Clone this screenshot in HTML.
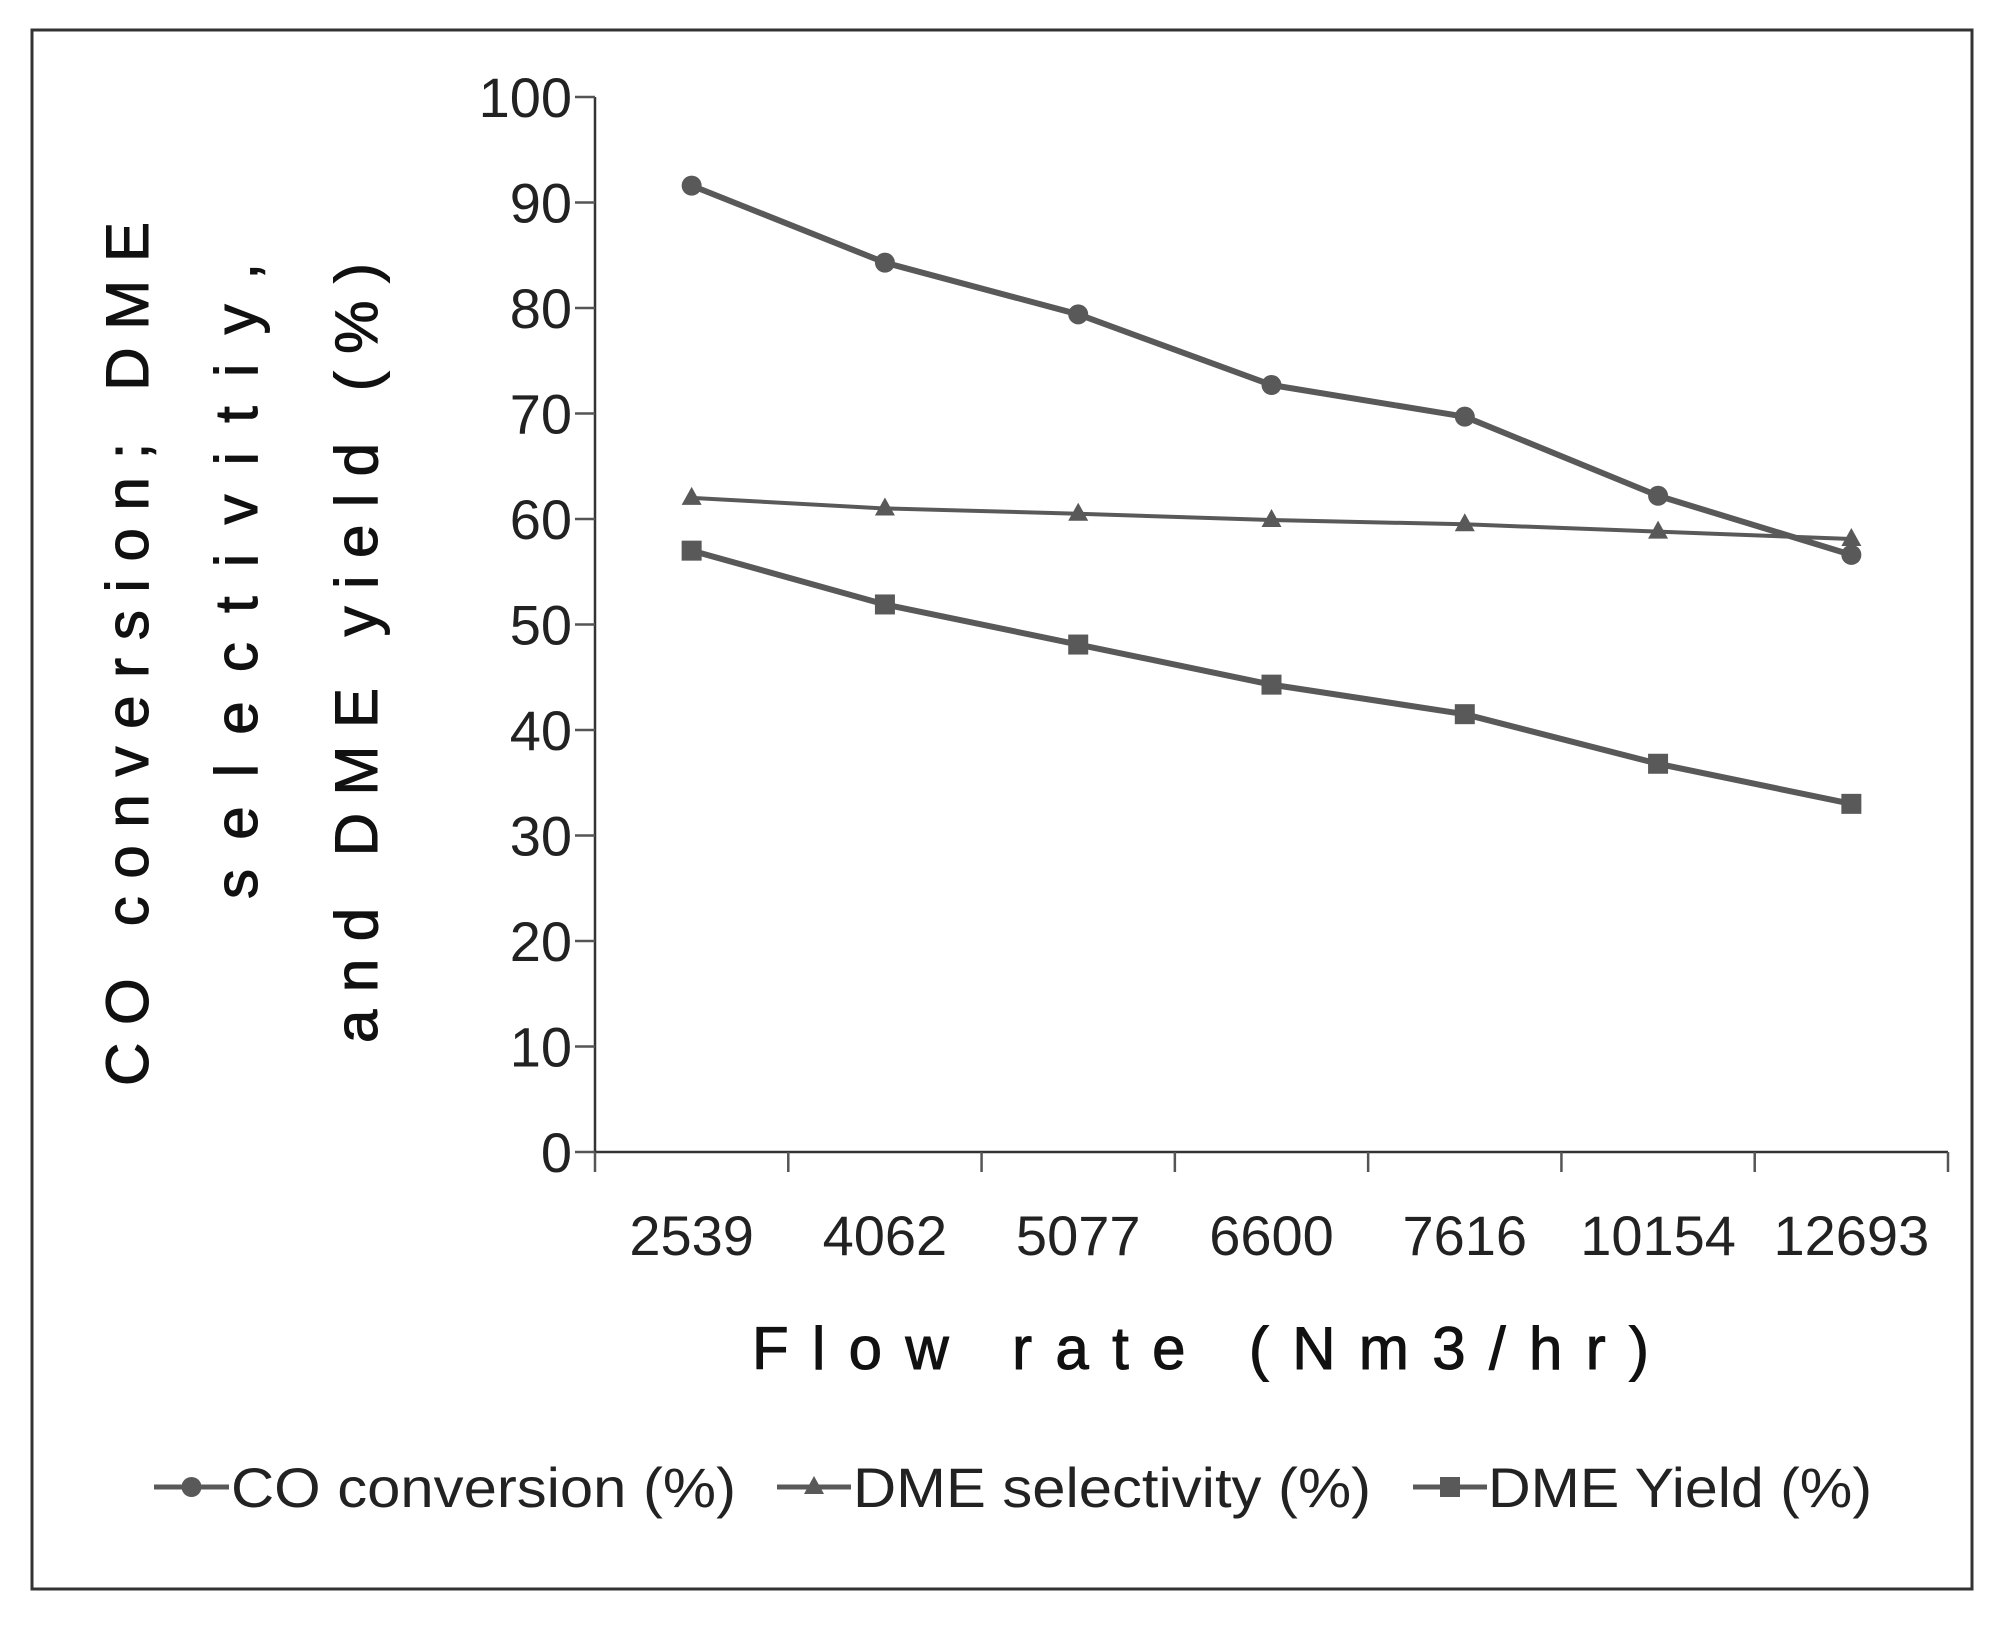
<!DOCTYPE html>
<html><head><meta charset="utf-8"><style>
html,body{margin:0;padding:0;background:#fff;}
svg{display:block;font-family:"Liberation Sans",sans-serif;}
</style></head><body>
<svg id="chart" width="2016" height="1628" viewBox="0 0 2016 1628">
<rect x="32" y="30" width="1940" height="1559" fill="#fff" stroke="#333" stroke-width="3"/>
<g id="axes"></g>
<g id="series"></g>
<text x="0" y="0" transform="translate(148,654) rotate(-90)" text-anchor="middle" font-size="60" fill="#111" stroke="#111" stroke-width="1" textLength="864" lengthAdjust="spacing">CO conversion; DME</text>
<text x="0" y="0" transform="translate(257,581) rotate(-90)" text-anchor="middle" font-size="60" fill="#111" stroke="#111" stroke-width="1" textLength="636" lengthAdjust="spacing">selectivitiy,</text>
<text x="0" y="0" transform="translate(377,653) rotate(-90)" text-anchor="middle" font-size="60" fill="#111" stroke="#111" stroke-width="1" textLength="780" lengthAdjust="spacing">and DME yield (%)</text>
<text x="752" y="1369" font-size="60" fill="#111" stroke="#111" stroke-width="1" textLength="897" lengthAdjust="spacing">Flow rate (Nm3/hr)</text>
<g id="legend"></g>
</svg>
<script>
const categories = ["2539","4062","5077","6600","7616","10154","12693"];
const coConversion = [91.6,84.3,79.4,72.7,69.7,62.2,56.6];
const dmeSelectivity = [62.0,61.0,60.5,59.9,59.5,58.8,58.1];
const dmeYield = [57.0,51.9,48.1,44.3,41.5,36.8,33.0];
const yTicks = [0,10,20,30,40,50,60,70,80,90,100];

const NS = "http://www.w3.org/2000/svg";
const X0 = 595, X1 = 1948, Y0 = 1152, Y1 = 97;
const band = (X1 - X0) / categories.length;
function xPos(i){ return X0 + band * (i + 0.5); }
function yPos(v){ return Y0 - (v / 100) * (Y0 - Y1); }
function mk(tag, attrs, parent){
  const e = document.createElementNS(NS, tag);
  for (const k in attrs) e.setAttribute(k, attrs[k]);
  parent.appendChild(e); return e;
}
const axes = document.getElementById('axes');
const series = document.getElementById('series');
const legend = document.getElementById('legend');

let l = mk('line',{x1:X0,y1:Y1,x2:X0,y2:Y0,stroke:'#333','stroke-width':2.5},axes);


l = mk('line',{x1:X0,y1:Y0,x2:X1,y2:Y0,stroke:'#333','stroke-width':2.5},axes);



yTicks.forEach(v => {
  const y = yPos(v);
  const t = mk('line',{x1:X0-20,y1:y,x2:X0,y2:y,stroke:'#555','stroke-width':2.5},axes);
  
  
  const tx = mk('text',{x:572,y:y+20,'text-anchor':'end','font-size':56,fill:'#222'},axes);
  tx.textContent = v;
  
  
});
for (let i = 0; i <= categories.length; i++){
  const x = X0 + band * i;
  const t = mk('line',{x1:x,y1:Y0,x2:x,y2:Y0+20,stroke:'#555','stroke-width':2.5},axes);
  
  
}
categories.forEach((c,i) => {
  const tx = mk('text',{x:xPos(i),y:1255,'text-anchor':'middle','font-size':56,fill:'#222'},axes);
  tx.textContent = c;
  
  
});

function marker(type, x, y, parent){
  let m;
  if (type === 'circle') m = mk('circle',{cx:x,cy:y,r:10,fill:'#595959'},parent);
  else if (type === 'tri') m = mk('polygon',{points:`${x},${y-11} ${x-10},${y+7} ${x+10},${y+7}`,fill:'#595959'},parent);
  else m = mk('rect',{x:x-10,y:y-10,width:20,height:20,fill:'#595959'},parent);
  return m;
}
function drawSeries(vals, type, width, name){
  const g = mk('g',{},series);
  
  
  const pts = vals.map((v,i)=>xPos(i)+','+yPos(v)).join(' ');
  const pl = mk('polyline',{points:pts,fill:'none',stroke:'#595959','stroke-width':width,'stroke-linejoin':'round'},g);
  
  
  vals.forEach((v,i)=>{
    const m = marker(type, xPos(i), yPos(v), g);
    
    
  });
}
drawSeries(coConversion,'circle',6,'co-conversion');
drawSeries(dmeSelectivity,'tri',4,'dme-selectivity');
drawSeries(dmeYield,'rect',6,'dme-yield');

const legendItems = [
  {label:'CO conversion (%)', type:'circle', x1:154, x2:229, tx:231, tl:505, name:'legend-co-conversion'},
  {label:'DME selectivity (%)', type:'tri', x1:777, x2:851, tx:853, tl:518, name:'legend-dme-selectivity'},
  {label:'DME Yield (%)', type:'rect', x1:1413, x2:1487, tx:1488, tl:384, name:'legend-dme-yield'}
];
legendItems.forEach(it => {
  const g = mk('g',{},legend);
  
  
  mk('line',{x1:it.x1,y1:1487,x2:it.x2,y2:1487,stroke:'#595959','stroke-width':5},g);
  marker(it.type,(it.x1+it.x2)/2,1487,g);
  const t = mk('text',{x:it.tx,y:1507,'font-size':56,fill:'#222',textLength:it.tl,lengthAdjust:'spacingAndGlyphs'},g);
  t.textContent = it.label;
});
</script>
</body></html>
